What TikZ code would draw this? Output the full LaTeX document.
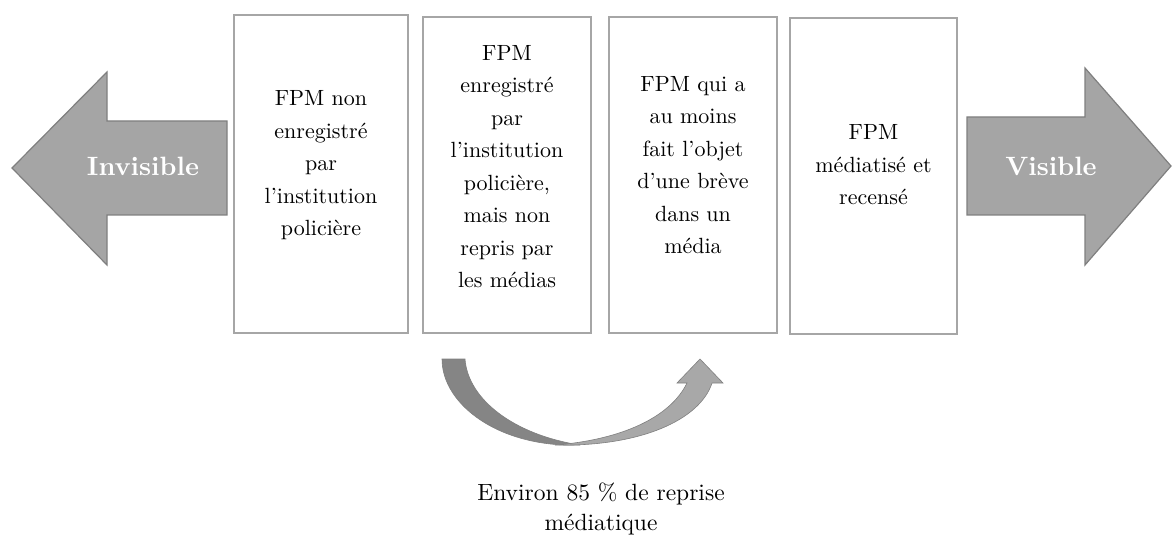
\documentclass[tikz,border=0pt]{standalone}
\usepackage{fontspec}
\setmainfont{lmroman10-regular.otf}[BoldFont=lmroman10-bold.otf]
\definecolor{boxgray}{HTML}{A6A6A6}
\definecolor{arrfill}{HTML}{A5A5A5}
\definecolor{arrline}{HTML}{7F7F7F}
\definecolor{darkarc}{HTML}{858585}
\definecolor{lightarc}{HTML}{A8A8A8}
\begin{document}
\begin{tikzpicture}[x=1pt,y=-1pt,
  stagebox/.style={draw=boxgray, line width=1.6pt, fill=white, inner sep=0pt},
  stagetext/.style={align=center, font=\fontsize{22}{32.5}\selectfont, text=black, inner sep=0pt},
  captext/.style={align=center, font=\fontsize{23.5}{30}\selectfont, text=black, inner sep=0pt},
  bigarrow/.style={fill=arrfill, draw=arrline, line width=1.2pt, line join=miter},
  arrowlabel/.style={font=\fontsize{26.5}{30}\selectfont\bfseries, text=white, inner sep=0pt},
]
\useasboundingbox (0,0) rectangle (1173,540);

% stage boxes
\node[stagebox, minimum width=174pt, minimum height=318pt] (b1) at (321,174) {};
\node[stagebox, minimum width=168pt, minimum height=316pt] (b2) at (507,175) {};
\node[stagebox, minimum width=168pt, minimum height=316pt] (b3) at (693,175) {};
\node[stagebox, minimum width=167pt, minimum height=316pt] (b4) at (873.5,176) {};

\node[stagetext] (t1) at (321,164.5) {\strut FPM non\\enregistré\\par\\l’institution\\policière\strut};
\node[stagetext] (t2) at (507,167.5) {\strut FPM\\enregistré\\par\\l’institution\\policière,\\mais non\\repris par\\les médias\strut};
\node[stagetext] (t3) at (693,166) {\strut FPM qui a\\au moins\\fait l’objet\\d’une brève\\dans un\\média\strut};
\node[stagetext] (t4) at (873.5,166) {\strut FPM\\médiatisé et\\recensé\strut};

% big arrows
\draw[bigarrow] (12,168) -- (107,72) -- (107,121) -- (227,121) -- (227,215) -- (107,215) -- (107,265) -- cycle;
\draw[bigarrow] (967,117) -- (1085,117) -- (1085,68) -- (1171,166) -- (1085,265) -- (1085,215) -- (967,215) -- cycle;
\node[arrowlabel] (inv) at (143,166) {Invisible};
\node[arrowlabel] (vis) at (1051,166) {Visible};

% curved arrow
\draw[fill=darkarc, draw=arrline, line width=0.6pt] (442,359) -- (465,359) .. controls (468,400) and (515,435) .. (580,445) .. controls (500,448) and (442,405) .. (442,359) -- cycle;
\draw[fill=lightarc, draw=arrline, line width=0.6pt] (555,445) .. controls (640,447) and (700,420) .. (712,383) -- (723,383) -- (700,359) -- (677,383) -- (687,383) .. controls (670,418) and (620,440) .. (555,445) -- cycle;

\node[captext] (cap) at (601,509) {\strut Environ 85 \% de reprise\\médiatique\strut};
\end{tikzpicture}
\end{document}
